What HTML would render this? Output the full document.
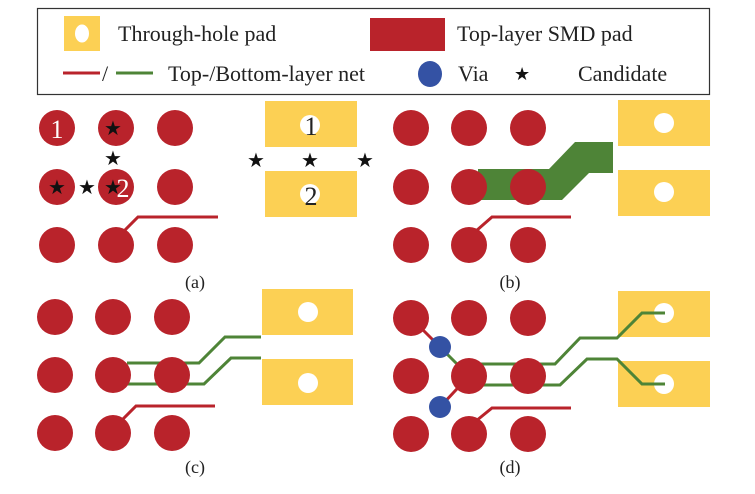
<!DOCTYPE html>
<html><head><meta charset="utf-8"><style>
body{margin:0;background:#fff}
svg{display:block;font-family:"Liberation Serif",serif}
</style></head><body>
<svg width="755" height="494" viewBox="0 0 755 494">
<g>
<rect x="37.5" y="8.5" width="672" height="86" fill="#fff" stroke="#333" stroke-width="1.2"/>
<rect x="64" y="16" width="36" height="35" fill="#FCD054"/>
<ellipse cx="82" cy="33.5" rx="7" ry="9" fill="#fff"/>
<text x="118" y="41" font-size="22" fill="#222">Through-hole pad</text>
<rect x="370" y="18" width="75" height="33" fill="#B9232B"/>
<text x="457" y="41" font-size="22" fill="#222">Top-layer SMD pad</text>
<line x1="63" y1="73" x2="100" y2="73" stroke="#B9232B" stroke-width="3"/>
<text x="102" y="81" font-size="22" fill="#222">/</text>
<line x1="116" y1="73" x2="153" y2="73" stroke="#4E8437" stroke-width="3"/>
<text x="168" y="81" font-size="22" fill="#222">Top-/Bottom-layer net</text>
<ellipse cx="430" cy="74" rx="12" ry="13" fill="#3452A4"/>
<text x="458" y="81" font-size="22" fill="#222">Via</text>
<text x="514" y="80" font-size="18" fill="#111">★</text>
<text x="578" y="81" font-size="22" fill="#222">Candidate</text>
</g>
<g id="panels"></g>
</svg>
<script>
const NS='http://www.w3.org/2000/svg';
const root=document.getElementById('panels');
const R='#B9232B',Y='#FCD054',G='#4E8437',B='#3452A4';
function mk(tag,attrs,name,parent){const e=document.createElementNS(NS,tag);for(const k in attrs)e.setAttribute(k,attrs[k]);


(parent||root).appendChild(e);return e;}
function pl(pts,c,w,name){return mk('polyline',{points:pts.map(p=>p.join(',')).join(' '),fill:'none',stroke:c,'stroke-width':w},name);}
function grid(xs,ys,name){ys.forEach((y,i)=>xs.forEach((x,j)=>mk('circle',{cx:x,cy:y,r:18,fill:R},name+'-pad-'+i+'-'+j)));}
function th(x,y,w,h,hx,hy,name){mk('rect',{x:x,y:y,width:w,height:h,fill:Y},name);mk('circle',{cx:hx,cy:hy,r:10,fill:'#fff'},name+'-hole');}
function txt(x,y,s,size,fill,name,anchor){const t=mk('text',{x:x,y:y,'font-size':size,fill:fill,'text-anchor':anchor||'middle'},name);t.textContent=s;return t;}
// (a)
th(265,101,92,46,310,125,'a-th-pad-1');th(265,171,92,46,310,194,'a-th-pad-2');
txt(311,135,'1',26,'#222','a-th-label-1');txt(311,205,'2',26,'#222','a-th-label-2');
grid([57,116,175],[128,187,245],'a');
pl([[123,232],[138,217],[218,217]],R,3,'a-top-net');
txt(57,138,'1',26,'#fff','a-pad-label-1');txt(123,197,'2',26,'#fff','a-pad-label-2');
[[113,128],[113,158],[57,187],[87,187],[113,187],[256,160],[310,160],[365,160]].forEach((p,i)=>txt(p[0],p[1]+7,'★',20,'#111','candidate-'+i));
txt(195,288,'(a)',18,'#222','label-a');
// (b)
th(618,100,92,46,664,123,'b-th-pad-1');th(618,170,92,46,664,192,'b-th-pad-2');
mk('polygon',{points:'478,169 549,169 575,142 613,142 613,173 589,173 562,200 478,200',fill:G},'b-bottom-net-wide');
grid([411,469,528],[128,187,245],'b');
pl([[476,231],[492,217],[571,217]],R,3,'b-top-net');
txt(510,288,'(b)',18,'#222','label-b');
// (c)
th(262,289,91,46,308,312,'c-th-pad-1');th(262,359,91,46,308,383,'c-th-pad-2');
pl([[127,363],[199,363],[225,337],[261,337]],G,3,'c-bottom-net-1');
pl([[127,384],[204,384],[231,358],[261,358]],G,3,'c-bottom-net-2');
grid([55,113,172],[317,375,433],'c');
pl([[121,421],[136,406],[215,406]],R,3,'c-top-net');
txt(195,473,'(c)',18,'#222','label-c');
// (d)
th(618,291,92,46,664,313,'d-th-pad-1');th(618,361,92,46,664,384,'d-th-pad-2');
pl([[411,318],[440,347]],R,3,'d-top-net-via-1');
pl([[440,347],[469,376]],G,3,'d-bottom-net-via-1');
pl([[469,376],[440,407]],R,3,'d-top-net-via-2');
pl([[470,364],[555,364],[580,338],[617,338],[642,313],[665,313]],G,3,'d-bottom-net-1');
pl([[470,385],[560,385],[587,359],[617,359],[642,384],[665,384]],G,3,'d-bottom-net-2');
grid([411,469,528],[318,376,434],'d');
mk('circle',{cx:440,cy:347,r:11,fill:B},'d-via-1');
mk('circle',{cx:440,cy:407,r:11,fill:B},'d-via-2');
pl([[476,421],[492,408],[571,408]],R,3,'d-top-net');
txt(510,473,'(d)',18,'#222','label-d');
</script>
</body></html>
